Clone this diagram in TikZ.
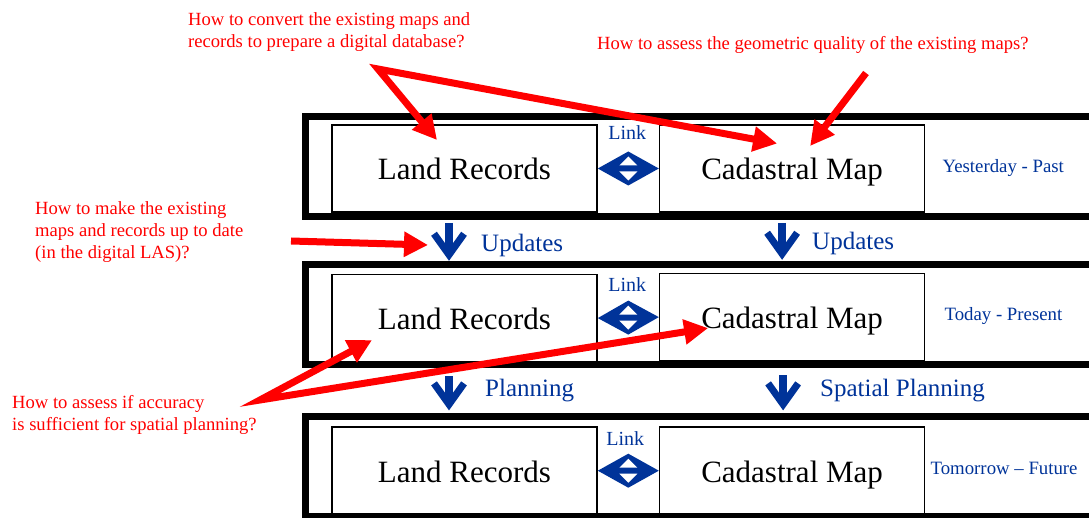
\documentclass[tikz,border=0pt]{standalone}
\usepackage{fontspec}
\setmainfont{Liberation Serif}
\usetikzlibrary{positioning,arrows.meta}
\definecolor{linkblue}{RGB}{0,51,153}

\begin{document}
\begin{tikzpicture}[x=1pt,y=-1pt,
	band/.style={draw, line width=7pt, minimum width=800pt, minimum height=100pt, inner sep=0pt},
	recbox/.style={draw, line width=1.6pt, minimum width=265pt, minimum height=87pt, inner sep=0pt, text height=25pt, text depth=2pt, font=\fontsize{31}{36}\selectfont},
	linktxt/.style={text=linkblue, font=\fontsize{20}{24}\selectfont, inner sep=0pt},
	steptxt/.style={text=linkblue, font=\fontsize{25}{30}\selectfont, anchor=west, inner sep=0pt},
	eratxt/.style={text=linkblue, font=\fontsize{18.8}{22}\selectfont, inner sep=0pt},
	question/.style={text=red, font=\fontsize{18.6}{22}\selectfont, align=left, inner sep=0pt},
	flow/.style={draw=linkblue, line width=8pt, -{Straight Barb[length=21pt,width=30pt,line width=7pt,sharp]}},
	qtip/.tip={Triangle[length=24pt,width=24pt]},
	qarrow/.style={draw=red, line width=7pt, line join=miter},
	]
	\useasboundingbox (0,0) rectangle (1089,518);
	\clip (0,0) rectangle (1089,518);

	%Bands
	\node[band] (band1) at (705,167) {};
	\node[band] (band2) at (705,314.5) {};
	\node[band] (band3) at (705,466.5) {};

	%Boxes
	\node[recbox] (lr1) at (464.5,168.5) {Land Records};
	\node[recbox] (cm1) [right=61pt of lr1] {Cadastral Map};
	\node[recbox] (lr2) [below=61pt of lr1] {Land Records};
	\node[recbox] (cm2) [right=61pt of lr2, yshift=1pt] {Cadastral Map};
	\node[recbox] (lr3) [below=64pt of lr2] {Land Records};
	\node[recbox] (cm3) [right=61pt of lr3] {Cadastral Map};

	%Eras
	\node[eratxt] (era1) [right=17pt of cm1] {Yesterday - Past};
	\node[eratxt] (era2) [right=19pt of cm2, yshift=1pt] {Today - Present};
	\node[eratxt] (era3) [right=5pt of cm3, yshift=2pt] {Tomorrow -- Future};

	%Links
	\path (lr1.east) -- (cm1.west) coordinate[midway] (k1);
	\fill[linkblue] (lr1.east) -- ([shift={(0,-17)}]k1) -- (cm1.west) -- ([shift={(0,17)}]k1) -- cycle;
	\fill[white] ([shift={(0,-12)}]k1) -- ([shift={(-9,-3)}]k1) -- ([shift={(9,-3)}]k1) -- cycle;
	\fill[white] ([shift={(0,12)}]k1) -- ([shift={(-9,3)}]k1) -- ([shift={(9,3)}]k1) -- cycle;
	\node[linktxt] (link1) at ([shift={(-1,-36)}]k1) {Link};

	\path (lr2.east) -- (cm2.west) coordinate[midway] (k2);
	\fill[linkblue] (lr2.east) -- ([shift={(0,-17)}]k2) -- (cm2.west) -- ([shift={(0,17)}]k2) -- cycle;
	\fill[white] ([shift={(0,-12)}]k2) -- ([shift={(-9,-3)}]k2) -- ([shift={(9,-3)}]k2) -- cycle;
	\fill[white] ([shift={(0,12)}]k2) -- ([shift={(-9,3)}]k2) -- ([shift={(9,3)}]k2) -- cycle;
	\node[linktxt] (link2) at ([shift={(-1,-33)}]k2) {Link};

	\path (lr3.east) -- (cm3.west) coordinate[midway] (k3);
	\fill[linkblue] (lr3.east) -- ([shift={(0,-17)}]k3) -- (cm3.west) -- ([shift={(0,17)}]k3) -- cycle;
	\fill[white] ([shift={(0,-12)}]k3) -- ([shift={(-9,-3)}]k3) -- ([shift={(9,-3)}]k3) -- cycle;
	\fill[white] ([shift={(0,12)}]k3) -- ([shift={(-9,3)}]k3) -- ([shift={(9,3)}]k3) -- cycle;
	\node[linktxt] (link3) at ([shift={(-3,-32)}]k3) {Link};

	%Flows
	\draw[flow, shorten <=10pt, shorten >=13pt] ([xshift=-15.5pt]lr1.south) -- ([xshift=-15.5pt]lr2.north);
	\draw[flow, shorten <=10pt, shorten >=13pt] ([xshift=-10pt]cm1.south) -- ([xshift=-10pt]cm2.north);
	\draw[flow, shorten <=14pt, shorten >=16pt] ([xshift=-15.5pt]lr2.south) -- ([xshift=-15.5pt]lr3.north);
	\draw[flow, shorten <=14pt, shorten >=16pt] ([xshift=-9pt]cm2.south) -- ([xshift=-9pt]cm3.north);
	\node[steptxt] (upd1) at (481,245) {Updates};
	\node[steptxt] (upd2) at (812,243) {Updates};
	\node[steptxt] (plan1) at (485,391) {Planning};
	\node[steptxt] (plan2) at (820,391) {Spatial Planning};

	%Questions
	\node[question, anchor=north west] (q1) at (188,12) {How to convert the existing maps and\\records to prepare a digital database?};
	\node[question, anchor=base west] (q2) at (597,50) {How to assess the geometric quality of the existing maps?};
	\node[question, anchor=north west] (q3) at (35,201) {How to make the existing\\maps and records up to date\\(in the digital LAS)?};
	\node[question, anchor=north west] (q4) at (12,395) {How to assess if accuracy\\is sufficient for spatial planning?};

	\coordinate (h1) at (378,69);
	\coordinate (h2) at (866,73);
	\coordinate (h3) at (291,241);
	\coordinate (h4) at (260,400);

	%Question arrows
	\draw[qarrow, qtip-qtip] ([shift={(-27.5,-28.5)}]lr1.center) -- (h1) -- ([shift={(-15,-25)}]cm1.center);
	\draw[qarrow, -qtip] (h2) -- ([shift={(18,-22.5)}]cm1.center);
	\draw[qarrow, -qtip] (h3) -- ([shift={(-53,0)}]upd1.west);
	\draw[qarrow, qtip-qtip] ([shift={(-92.5,22)}]lr2.center) -- (h4) -- ([shift={(-84,11)}]cm2.center);
\end{tikzpicture}
\end{document}
